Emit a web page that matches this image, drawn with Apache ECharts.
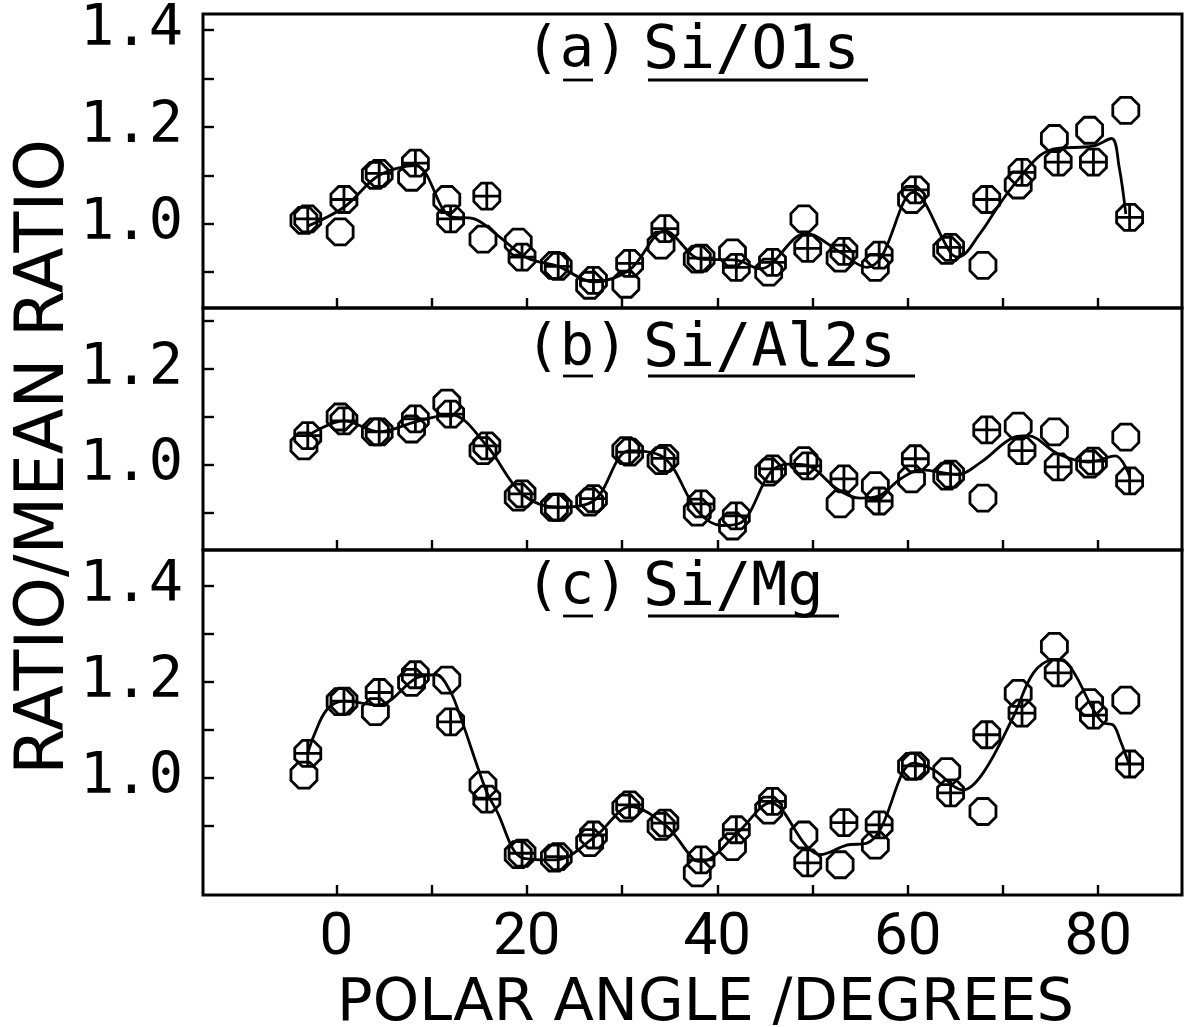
<!DOCTYPE html>
<html>
<head>
<meta charset="utf-8">
<title>Ratio / mean ratio vs polar angle</title>
<script src="https://cdn.jsdelivr.net/npm/echarts@6/dist/echarts.min.js"></script>
<style>
  html, body { margin: 0; padding: 0; background: #fff; }
  #chart { width: 1186px; height: 1027px; }
</style>
</head>
<body>
<div id="chart"></div>
<script>
// ---------------- data ----------------
const angleOpen  = [-3.4, 0.4, 4.1, 7.9, 11.6, 15.4, 19.1, 22.9, 26.6, 30.4, 34.1, 37.9, 41.6, 45.4, 49.1, 52.9, 56.6, 60.4, 64.1, 67.9, 71.6, 75.4, 79.1, 82.9];
const angleCross = [-3.0, 0.8, 4.5, 8.3, 12.0, 15.8, 19.5, 23.3, 27.0, 30.8, 34.5, 38.3, 42.0, 45.8, 49.5, 53.3, 57.0, 60.8, 64.5, 68.3, 72.0, 75.8, 79.5, 83.3];

// (a) Si/O1s
const aOpen  = [1.007, 0.983, 1.100, 1.096, 1.050, 0.968, 0.962, 0.914, 0.873, 0.875, 0.956, 0.927, 0.940, 0.900, 1.010, 0.929, 0.910, 1.050, 0.945, 0.914, 1.080, 1.176, 1.193, 1.234];
const aCross = [1.010, 1.050, 1.104, 1.125, 1.010, 1.057, 0.931, 0.912, 0.883, 0.918, 0.990, 0.929, 0.910, 0.920, 0.949, 0.943, 0.935, 1.070, 0.951, 1.050, 1.106, 1.127, 1.127, 1.013];
const aFitX  = [-3.0, 0.8, 4.5, 8.3, 12.0, 14.5, 17.0, 20.0, 23.3, 27.0, 30.8, 34.5, 38.3, 42.0, 44.5, 49.3, 53.0, 55.7, 57.2, 60.6, 64.5, 65.3, 67.6, 69.7, 71.8, 73.9, 75.6, 79.4, 81.4, 82.2, 82.9];
const aFitY  = [0.995, 1.034, 1.100, 1.120, 1.015, 1.010, 0.975, 0.930, 0.912, 0.880, 0.905, 0.985, 0.927, 0.925, 0.907, 0.980, 0.940, 0.910, 0.930, 1.065, 0.940, 0.931, 0.980, 1.042, 1.096, 1.141, 1.155, 1.160, 1.176, 1.117, 1.020];

// (b) Si/Al2s
const bOpen  = [1.040, 1.100, 1.069, 1.075, 1.129, 1.030, 0.933, 0.912, 0.923, 1.030, 1.009, 0.902, 0.873, 0.985, 1.009, 0.919, 0.957, 0.971, 0.977, 0.931, 1.081, 1.069, 1.002, 1.058];
const bCross = [1.061, 1.092, 1.069, 1.096, 1.106, 1.040, 0.940, 0.912, 0.930, 1.027, 1.014, 0.919, 0.894, 0.992, 0.998, 0.971, 0.925, 1.013, 0.981, 1.073, 1.030, 0.996, 1.008, 0.967];
const bFitX  = [-3.0, 0.8, 4.5, 8.3, 12.0, 15.8, 19.5, 23.3, 27.0, 30.8, 34.5, 37.9, 40.5, 42.5, 45.6, 47.5, 49.3, 52.6, 55.0, 57.0, 59.3, 61.4, 65.2, 67.7, 71.2, 72.6, 75.8, 79.0, 81.8, 83.3];
const bFitY  = [1.061, 1.092, 1.069, 1.090, 1.105, 1.040, 0.940, 0.912, 0.925, 1.030, 1.014, 0.905, 0.874, 0.880, 0.985, 1.002, 1.000, 0.950, 0.931, 0.936, 0.972, 0.990, 0.980, 1.006, 1.058, 1.061, 1.023, 1.006, 1.019, 0.977];

// (c) Si/Mg
const cOpen  = [1.006, 1.159, 1.138, 1.199, 1.204, 0.985, 0.840, 0.833, 0.865, 0.937, 0.899, 0.802, 0.857, 0.933, 0.881, 0.819, 0.860, 1.024, 1.013, 0.930, 1.176, 1.274, 1.157, 1.162];
const cCross = [1.051, 1.160, 1.178, 1.215, 1.117, 0.956, 0.843, 0.836, 0.881, 0.944, 0.906, 0.829, 0.892, 0.951, 0.823, 0.907, 0.902, 1.025, 0.969, 1.090, 1.135, 1.219, 1.131, 1.029];
const cFitX  = [-3.0, -2.4, -1.0, 0.8, 4.4, 8.4, 10.5, 11.9, 12.9, 15.7, 16.8, 19.6, 23.0, 27.2, 30.9, 34.7, 37.6, 38.3, 42.1, 45.6, 49.4, 50.8, 53.6, 55.7, 57.1, 60.6, 62.7, 65.8, 67.9, 71.1, 73.2, 75.3, 76.7, 79.5, 80.5, 81.6, 82.3, 83.2];
const cFitY  = [1.051, 1.086, 1.142, 1.160, 1.152, 1.208, 1.215, 1.183, 1.135, 0.975, 0.933, 0.833, 0.829, 0.878, 0.940, 0.899, 0.829, 0.826, 0.885, 0.948, 0.857, 0.840, 0.860, 0.864, 0.892, 1.031, 1.017, 0.975, 1.010, 1.128, 1.219, 1.246, 1.240, 1.142, 1.115, 1.110, 1.079, 1.031];

// tick values / labels
const xTickVals   = [0, 10, 20, 30, 40, 50, 60, 70, 80];
const xLabelVals  = [0, 20, 40, 60, 80];
const yTickA  = [0.9, 1.0, 1.1, 1.2, 1.3, 1.4];
const yLabelA = [1.0, 1.2, 1.4];
const yTickB  = [0.9, 1.0, 1.1, 1.2, 1.3];
const yLabelB = [1.0, 1.2];
const yTickC  = [0.9, 1.0, 1.1, 1.2, 1.3, 1.4];
const yLabelC = [1.0, 1.2, 1.4];
const panelLetters = ['(a)', '(b)', '(c)'];
const panelNames   = ['Si/O1s', 'Si/Al2s', 'Si/Mg'];
const xTitle = 'POLAR ANGLE /DEGREES';
const yTitle = 'RATIO/MEAN RATIO';

// ---------------- helpers ----------------
const pair = (xs, ys) => xs.map((x, i) => [x, ys[i]]);
const OCT = 'M69.1 3.8 L96.2 30.9 L96.2 69.1 L69.1 96.2 L30.9 96.2 L3.8 69.1 L3.8 30.9 L30.9 3.8 Z';
const OCT_CROSS = OCT + ' M50 3.8 L50 96.2 M3.8 50 L96.2 50';
const monoFont = '"DejaVu Sans Mono", "Liberation Mono", monospace';
const sansFont = 'Roboto, "DejaVu Sans", sans-serif';
const wideFont = '"DejaVu Sans", Roboto, sans-serif';

const grids = [
  { left: 203, top: 14,  width: 979, height: 294 },
  { left: 203, top: 308, width: 979, height: 242 },
  { left: 203, top: 550, width: 979, height: 345 }
].map(g => Object.assign(g, { show: true, borderColor: '#000', borderWidth: 3, backgroundColor: 'transparent',
                              containLabel: false, outerBoundsMode: 'none' }));

function xAxisFor(i, showLabels) {
  const ax = {
    type: 'value', gridIndex: i, min: -14, max: 88.8,
    axisLine: { show: false, onZero: false },
    splitLine: { show: false },
    axisTick: { show: true, inside: true, length: 10, customValues: xTickVals, lineStyle: { color: '#000', width: 2.4 } },
    axisLabel: { show: showLabels, customValues: xLabelVals, margin: 14, color: '#000', fontFamily: sansFont, fontSize: 60 }
  };
  if (showLabels) {
    ax.name = xTitle;
    ax.nameLocation = 'middle';
    ax.nameGap = 80;
    ax.nameTextStyle = { color: '#000', fontFamily: wideFont, fontSize: 59, padding: [0, 0, 0, 26] };
  }
  return ax;
}
function yAxisFor(i, min, max, ticks, labels) {
  return {
    type: 'value', gridIndex: i, min: min, max: max,
    axisLine: { show: false, onZero: false },
    splitLine: { show: false },
    axisTick: { show: true, inside: true, length: 11, customValues: ticks, lineStyle: { color: '#000', width: 2.4 } },
    axisLabel: { show: true, customValues: labels, margin: 20, color: '#000', fontFamily: monoFont, fontSize: 57,
                 formatter: v => Number(v).toFixed(1) }
  };
}
function panelSeries(i, open, cross, fitX, fitY) {
  return [
    { type: 'line', xAxisIndex: i, yAxisIndex: i, data: pair(fitX, fitY), smooth: 0.35,
      showSymbol: false, symbol: 'none', lineStyle: { color: '#000', width: 2.8, opacity: 1 }, z: 2, silent: true },
    { type: 'scatter', xAxisIndex: i, yAxisIndex: i, data: pair(angleOpen, open), symbol: 'path://' + OCT,
      symbolSize: 26, itemStyle: { color: 'rgba(0,0,0,0)', borderColor: '#000', borderWidth: 2.8, opacity: 1 }, z: 3 },
    { type: 'scatter', xAxisIndex: i, yAxisIndex: i, data: pair(angleCross, cross), symbol: 'path://' + OCT_CROSS,
      symbolSize: 26, itemStyle: { color: 'rgba(0,0,0,0)', borderColor: '#000', borderWidth: 2.8, opacity: 1 }, z: 4 }
  ];
}

function txt(s, x, y, size, align) {
  return { type: 'text', x: x, y: y, z: 10,
           style: { text: s, fill: '#000', font: size + 'px ' + monoFont, align: align, verticalAlign: 'middle' } };
}
function uline(x1, x2, y) {
  return { type: 'line', shape: { x1: x1, y1: y, x2: x2, y2: y }, style: { stroke: '#000', lineWidth: 2.8 }, z: 10 };
}

const option = {
  animation: false,
  backgroundColor: '#fff',
  grid: grids,
  xAxis: [xAxisFor(0, false), xAxisFor(1, false), xAxisFor(2, true)],
  yAxis: [
    yAxisFor(0, 0.826, 1.433, yTickA, yLabelA),
    yAxisFor(1, 0.823, 1.327, yTickB, yLabelB),
    yAxisFor(2, 0.756, 1.475, yTickC, yLabelC)
  ],
  series: [].concat(
    panelSeries(0, aOpen, aCross, aFitX, aFitY),
    panelSeries(1, bOpen, bCross, bFitX, bFitY),
    panelSeries(2, cOpen, cCross, cFitX, cFitY)
  ),
  graphic: [
    txt(panelLetters[0], 577, 51, 57, 'center'),  txt(panelNames[0], 643, 52, 60, 'left'),
    txt(panelLetters[1], 577, 349, 57, 'center'), txt(panelNames[1], 643, 350, 60, 'left'),
    txt(panelLetters[2], 577, 588, 57, 'center'), txt(panelNames[2], 643, 589, 60, 'left'),
    uline(563, 593, 80), uline(648, 868, 80),
    uline(563, 593, 376), uline(648, 915, 376),
    uline(563, 593, 616), uline(648, 839, 616),
    { type: 'text', x: 46, y: 457, rotation: Math.PI / 2, z: 10,
      style: { text: yTitle, fill: '#000', font: '67px ' + wideFont, align: 'center', verticalAlign: 'middle' } }
  ]
};

const chart = echarts.init(document.getElementById('chart'), null, { renderer: 'canvas' });
chart.setOption(option);
</script>
</body>
</html>
